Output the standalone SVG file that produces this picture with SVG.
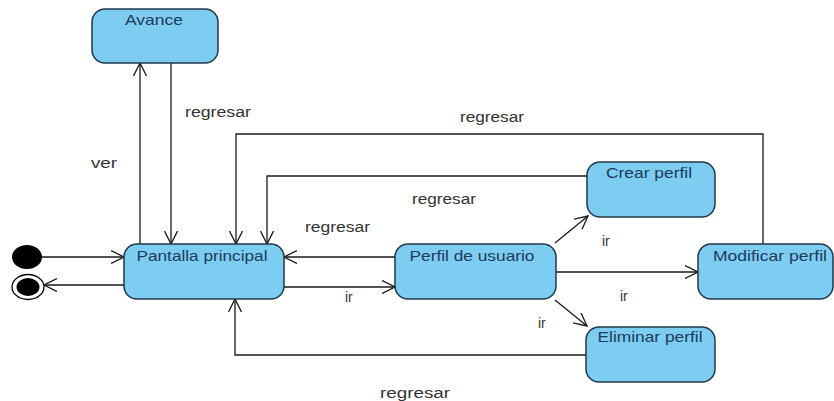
<svg xmlns="http://www.w3.org/2000/svg" width="834" height="401" viewBox="0 0 834 401">
  <style>
    .state rect { fill: #7ccdf1; stroke: #22384a; stroke-width: 1.5; }
    .state text { font-family: "Liberation Sans", Arial, sans-serif; font-size: 15px; fill: #1d3a5a; text-anchor: middle; }
    .edge { fill: none; stroke: #1a1a1a; stroke-width: 1.3; }
    .lbl { font-family: "Liberation Sans", Arial, sans-serif; font-size: 14px; fill: #333333; }
  </style>
  <defs>
    <marker id="open" viewBox="0 0 14 14" refX="13" refY="7" markerWidth="14" markerHeight="14" markerUnits="userSpaceOnUse" orient="auto">
      <path d="M0,0.5 L13,7 L0,13.5" fill="none" stroke="#1a1a1a" stroke-width="1.3"/>
    </marker>
  </defs>
  <rect width="834" height="401" fill="#ffffff"/>

  <!-- transitions -->
  <g id="connectors">
    <line class="edge" x1="42" y1="257" x2="124" y2="257" marker-end="url(#open)"/>
    <line class="edge" x1="124" y1="285" x2="44" y2="285" marker-end="url(#open)"/>
    <line class="edge" x1="140" y1="244" x2="140" y2="63" marker-end="url(#open)"/>
    <line class="edge" x1="171" y1="63" x2="171" y2="244" marker-end="url(#open)"/>
    <line class="edge" x1="395" y1="257" x2="284" y2="257" marker-end="url(#open)"/>
    <line class="edge" x1="284" y1="287" x2="395" y2="287" marker-end="url(#open)"/>
    <line class="edge" x1="555" y1="243" x2="588" y2="216" marker-end="url(#open)"/>
    <line class="edge" x1="556" y1="272" x2="698" y2="272" marker-end="url(#open)"/>
    <line class="edge" x1="555" y1="300" x2="587" y2="326" marker-end="url(#open)"/>
    <polyline class="edge" points="587,176 267,176 267,244" marker-end="url(#open)"/>
    <polyline class="edge" points="763,244 763,134 236,134 236,244" marker-end="url(#open)"/>
    <polyline class="edge" points="586,355 235,355 235,299" marker-end="url(#open)"/>

    <text class="lbl" x="91" y="168" textLength="26" lengthAdjust="spacingAndGlyphs">ver</text>
    <text class="lbl" x="185" y="117" textLength="66" lengthAdjust="spacingAndGlyphs">regresar</text>
    <text class="lbl" x="460" y="122" textLength="64" lengthAdjust="spacingAndGlyphs">regresar</text>
    <text class="lbl" x="412" y="204" textLength="64" lengthAdjust="spacingAndGlyphs">regresar</text>
    <text class="lbl" x="305" y="232" textLength="65" lengthAdjust="spacingAndGlyphs">regresar</text>
    <text class="lbl" x="380" y="398" textLength="70" lengthAdjust="spacingAndGlyphs">regresar</text>
    <text class="lbl" x="345" y="302">ir</text>
    <text class="lbl" x="602" y="246">ir</text>
    <text class="lbl" x="620" y="301">ir</text>
    <text class="lbl" x="538" y="328">ir</text>
  </g>

  <!-- pseudo states -->
  <g id="initial">
    <ellipse cx="27" cy="257" rx="15" ry="12" fill="#000000"/>
  </g>
  <g id="final">
    <ellipse cx="28" cy="287" rx="16" ry="12.5" fill="#ffffff" stroke="#000000" stroke-width="1.3"/>
    <ellipse cx="28" cy="287" rx="11.5" ry="9" fill="#000000"/>
  </g>

  <g id="avance" class="state">
    <rect x="92" y="9" width="126" height="54" rx="13"/>
    <text x="154" y="25" textLength="58" lengthAdjust="spacingAndGlyphs">Avance</text>
  </g>
  <g id="pantalla-principal" class="state">
    <rect x="124" y="244" width="160" height="55" rx="13"/>
    <text x="202" y="261" textLength="131" lengthAdjust="spacingAndGlyphs">Pantalla principal</text>
  </g>
  <g id="perfil-usuario" class="state">
    <rect x="395" y="244" width="161" height="55" rx="13"/>
    <text x="472" y="261" textLength="125" lengthAdjust="spacingAndGlyphs">Perfil de usuario</text>
  </g>
  <g id="crear-perfil" class="state">
    <rect x="587" y="162" width="128" height="55" rx="13"/>
    <text x="649" y="178" textLength="86" lengthAdjust="spacingAndGlyphs">Crear perfil</text>
  </g>
  <g id="modificar-perfil" class="state">
    <rect x="698" y="244" width="135" height="55" rx="13"/>
    <text x="770" y="261" textLength="114" lengthAdjust="spacingAndGlyphs">Modificar perfil</text>
  </g>
  <g id="eliminar-perfil" class="state">
    <rect x="586" y="327" width="129" height="55" rx="13"/>
    <text x="650" y="342" textLength="105" lengthAdjust="spacingAndGlyphs">Eliminar perfil</text>
  </g>
</svg>
